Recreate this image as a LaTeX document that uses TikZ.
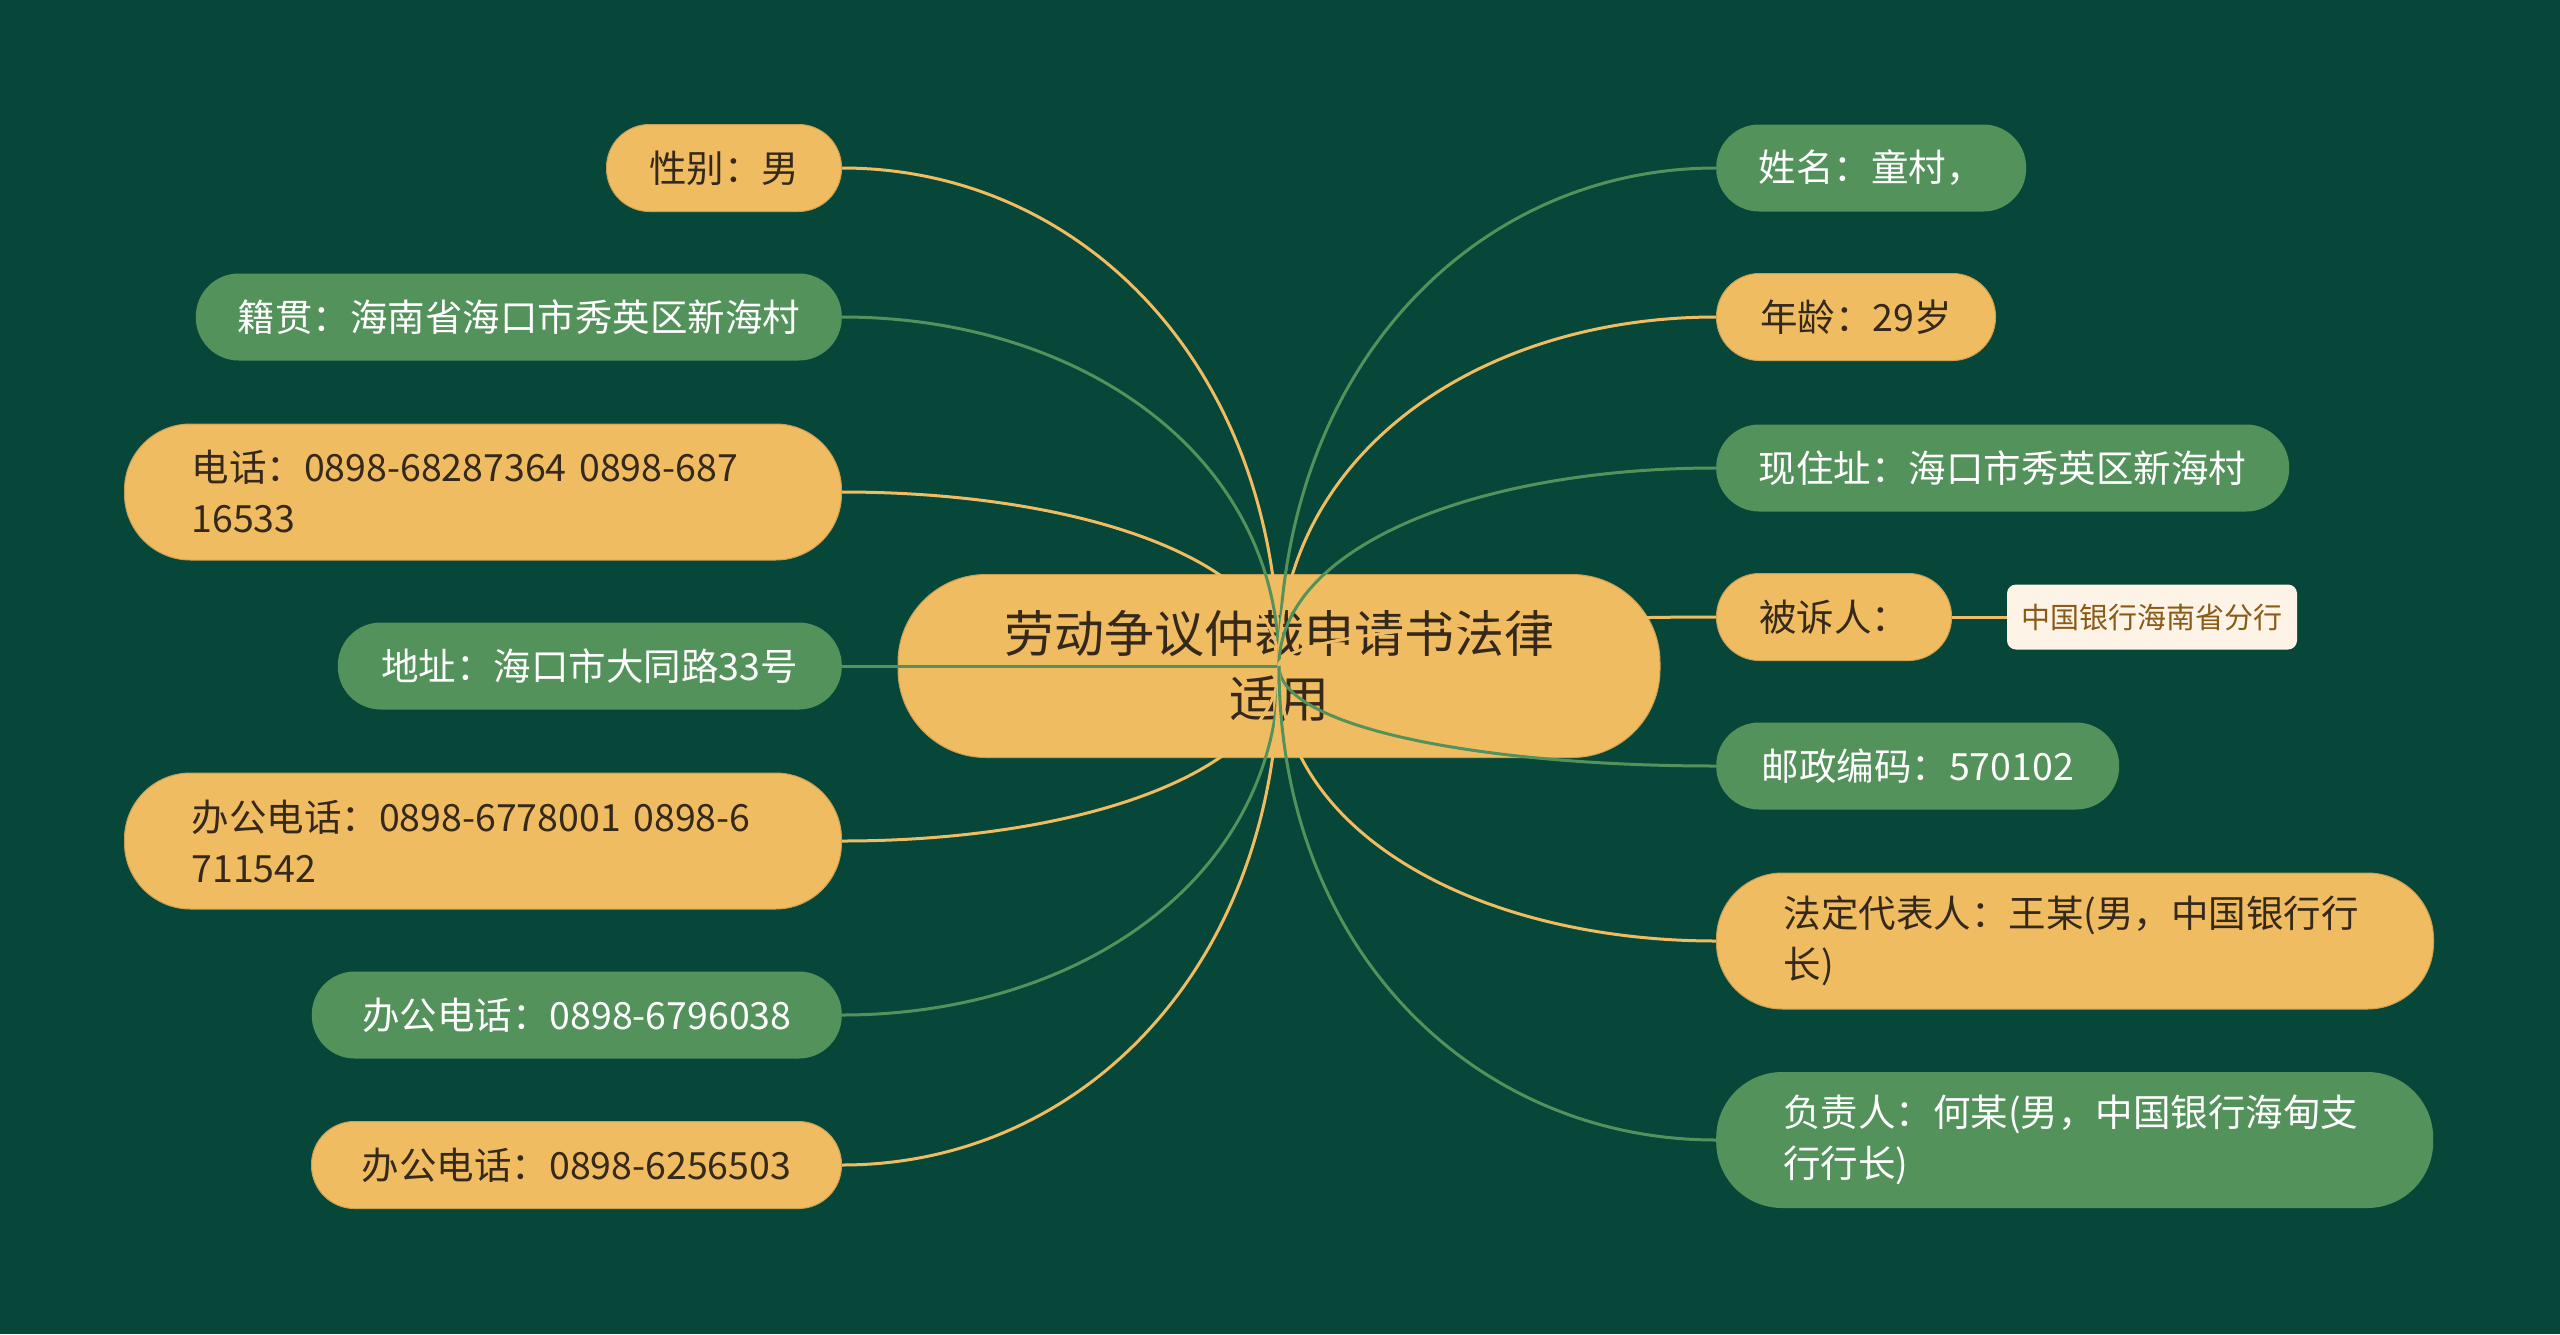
\documentclass[tikz,border=0pt]{standalone}
\usepackage{fontspec}
\setmainfont{Noto Sans CJK SC}
\usetikzlibrary{positioning, calc}
\definecolor{bgdark}{HTML}{07473A}
\definecolor{leafyellow}{HTML}{F0BC62}
\definecolor{leafgreen}{HTML}{53925B}
\definecolor{inkdark}{HTML}{35291B}
\definecolor{notecream}{HTML}{FDF3E6}
\definecolor{notebrown}{HTML}{8A5A16}
% curved branch from a leaf on the left / to a leaf on the right
\newcommand{\leftbranch}[2]{\draw[#1] (#2.east) .. controls ($(#2.east)!0.55!(#2.east -| root.center)$)
    and ($(root.center)!0.6!(root.center |- #2.east)$) .. (root.center);}
\newcommand{\rightbranch}[2]{\draw[#1] (root.center) .. controls ($(root.center)!0.6!(root.center |- #2.west)$)
    and ($(#2.west)!0.55!(#2.west -| root.center)$) .. (#2.west);}

\begin{document}
\begin{tikzpicture}[
    x=1pt, y=-1pt,
    leaf/.style={rectangle, rounded corners=43pt, minimum height=87pt, inner xsep=0pt, inner ysep=0pt,
                 font=\fontsize{37.5}{51}\selectfont, align=left},
    ynode/.style={leaf, fill=leafyellow, draw=leafyellow!85!black, line width=1pt, text=inkdark},
    gnode/.style={leaf, fill=leafgreen, text=white},
    twoline/.style={rounded corners=66pt, minimum height=136pt, inner xsep=67pt, text width=583pt},
    root/.style={rectangle, rounded corners=88pt, fill=leafyellow, draw=leafyellow!85!black, line width=1pt,
                 minimum width=762pt, minimum height=183pt, align=center, text=inkdark,
                 font=\fontsize{50}{65}\selectfont},
    note/.style={rectangle, rounded corners=9pt, fill=notecream, text=notebrown, minimum width=290pt,
                 minimum height=65pt, inner sep=0pt, font=\fontsize{29}{35}\selectfont},
    yline/.style={draw=leafyellow, line width=3pt},
    gline/.style={draw=leafgreen, line width=3pt}
]
\fill[bgdark] (0,0) rectangle (2560,1334);
\useasboundingbox (0,0) rectangle (2560,1334);

\node[root] (root) at (1279,666) {劳动争议仲裁申请书法律\\适用};

% left branches
\node[ynode, minimum width=235pt, anchor=east] (gender) at (842,168) {性别：男};
\node[gnode, minimum width=646pt, anchor=east] (native) at (842,317) {籍贯：海南省海口市秀英区新海村};
\node[ynode, twoline, anchor=east] (phone) at (842,492) {电话：0898-68287364 0898-687\\16533};
\node[gnode, minimum width=504pt, anchor=east] (addr) at (842,666) {地址：海口市大同路33号};
\node[ynode, twoline, anchor=east] (office1) at (842,841) {办公电话：0898-6778001 0898-6\\711542};
\node[gnode, minimum width=530pt, anchor=east] (office2) at (842,1015) {办公电话：0898-6796038};
\node[ynode, minimum width=530pt, anchor=east] (office3) at (842,1165) {办公电话：0898-6256503};

% right branches
\node[gnode, minimum width=310pt, anchor=west] (name) at (1716,168) {姓名：童村，};
\node[ynode, minimum width=279pt, anchor=west] (age) at (1716,317) {年龄：29岁};
\node[gnode, minimum width=573pt, anchor=west] (home) at (1716,468) {现住址：海口市秀英区新海村};
\node[ynode, minimum width=235pt, anchor=west] (accused) at (1716,617) {被诉人：};
\node[note] (bank) at (2152,617) {中国银行海南省分行};
\node[gnode, minimum width=403pt, anchor=west] (postcode) at (1716,766) {邮政编码：570102};
\node[ynode, twoline, anchor=west] (legal) at (1716,941) {法定代表人：王某(男，中国银行行\\长)};
\node[gnode, twoline, anchor=west] (chief) at (1716,1140) {负责人：何某(男，中国银行海甸支\\行行长)};

\leftbranch{yline}{gender}
\leftbranch{gline}{native}
\leftbranch{yline}{phone}
\draw[gline] (addr.east) -- (root.center);
\leftbranch{yline}{office1}
\leftbranch{gline}{office2}
\leftbranch{yline}{office3}

\rightbranch{gline}{name}
\rightbranch{yline}{age}
\rightbranch{gline}{home}
\rightbranch{yline}{accused}
\rightbranch{gline}{postcode}
\rightbranch{yline}{legal}
\rightbranch{gline}{chief}
\draw[yline] (accused.east) -- (bank.west);
\end{tikzpicture}
\end{document}
